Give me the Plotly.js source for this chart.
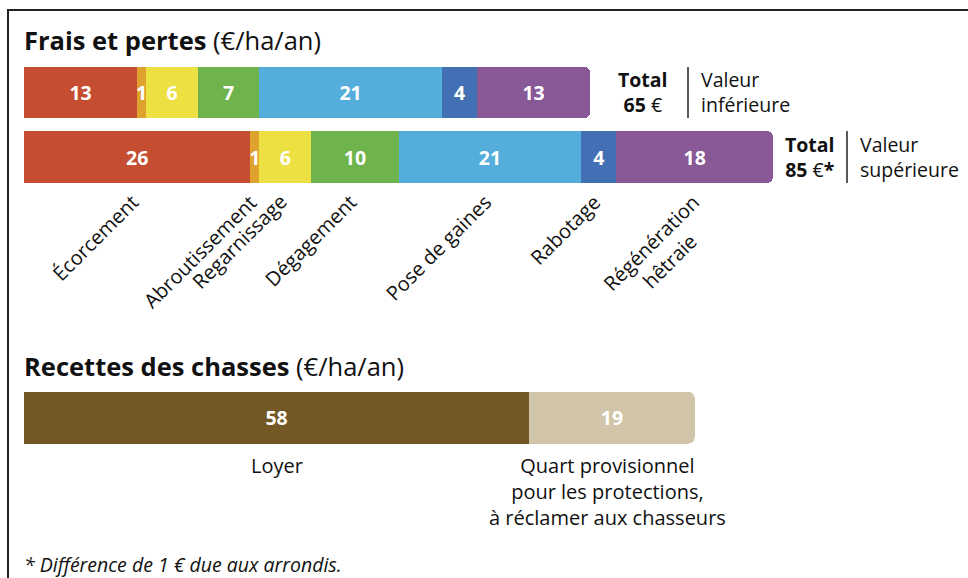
<!DOCTYPE html>
<html>
<head>
<meta charset="utf-8">
<script src="https://cdn.plot.ly/plotly-3.0.1.min.js"></script>
<style>
html,body{margin:0;padding:0;background:#fff;}
#chart{width:968px;height:578px;}
</style>
</head>
<body>
<div id="chart"></div>
<script>
// ---- Data ----
const categories = ['Écorcement', 'Abroutissement', 'Regarnissage', 'Dégagement', 'Pose de gaines', 'Rabotage', 'Régénération<br>hêtraie'];
const rows = ['Valeur inférieure', 'Valeur supérieure'];
const lowValues = [13, 1, 6, 7, 21, 4, 13];
const highValues = [26, 1, 6, 10, 21, 4, 18];
const totalLabels = ['<b>Total</b><br><b>65</b> €', '<b>Total</b><br><b>85</b> €<b>*</b>'];
const rowLabels = ['Valeur<br>inférieure', 'Valeur<br>supérieure'];
const recetteLabels = ['Loyer', 'Quart provisionnel<br>pour les protections,<br>à réclamer aux chasseurs'];
const recetteValues = [58, 19];

// ---- Styles ----
const catColors = ['#C54E32', '#E0A22E', '#EDE043', '#6EB34B', '#55ADDC', '#4370B4', '#895896'];
const recetteColors = ['#735826', '#D0C5A8'];
const FONT = '"Open Sans", sans-serif';
const W = 968, H = 578, ML = 24, MR = 4;
const PW = W - ML - MR;
const PXPERUNIT = 8.71;
const px = x => (x - ML) / PW;      // pixel x -> paper
const py = y => 1 - y / H;           // pixel y -> paper

const traces = [];
categories.forEach((c, i) => {
  traces.push({
    type: 'bar', orientation: 'h', name: c,
    y: rows, x: [lowValues[i], highValues[i]],
    xaxis: 'x', yaxis: 'y',
    marker: {color: catColors[i], line: {width: 0}},
    text: [lowValues[i], highValues[i]].map(String),
    textposition: 'inside', insidetextanchor: 'middle', textangle: 0,
    constraintext: 'none',
    textfont: {color: '#ffffff', size: 19.5, family: FONT, weight: 'bold'},
    hoverinfo: 'skip'
  });
});
recetteLabels.forEach((c, i) => {
  traces.push({
    type: 'bar', orientation: 'h', name: c,
    y: ['Recettes'], x: [recetteValues[i]],
    xaxis: 'x', yaxis: 'y2',
    marker: {color: recetteColors[i], line: {width: 0}},
    text: [String(recetteValues[i])],
    textposition: 'inside', insidetextanchor: 'middle', textangle: 0,
    constraintext: 'none',
    textfont: {color: '#ffffff', size: 19.5, family: FONT, weight: 'bold'},
    hoverinfo: 'skip'
  });
});

const annotations = [];
// titles
annotations.push({xref: 'paper', yref: 'paper', x: px(22), y: py(40), xanchor: 'left', yanchor: 'middle',
  text: '<b>Frais et pertes</b> (€/ha/an)', showarrow: false, font: {size: 25.5, family: FONT, color: '#111'}});
annotations.push({xref: 'paper', yref: 'paper', x: px(22), y: py(366), xanchor: 'left', yanchor: 'middle',
  text: '<b>Recettes des chasses</b> (€/ha/an)', showarrow: false, font: {size: 25.5, family: FONT, color: '#111'}});

// category labels under the upper-value bar
let cum = 0;
highValues.forEach((v, i) => {
  const center = cum + v / 2;
  cum += v;
  const nLines = categories[i].split('<br>').length;
  annotations.push({xref: 'x', yref: 'paper', x: center, y: py(186), xanchor: 'right', yanchor: 'top',
    xshift: 10 + (nLines - 1) * 22, text: categories[i], textangle: -45, showarrow: false, align: 'center',
    font: {size: 20, family: FONT, color: '#111'}});
});

// totals and row labels
const rowCenters = [92.5, 157];
const totalX = [643, 810];
const sepX = [688, 847];
const rowLabX = [699, 858];
rows.forEach((r, i) => {
  annotations.push({xref: 'paper', yref: 'paper', x: px(totalX[i]), y: py(rowCenters[i]), xanchor: 'center', yanchor: 'middle',
    text: totalLabels[i], showarrow: false, align: 'center', font: {size: 19.5, family: FONT, color: '#111'}});
  annotations.push({xref: 'paper', yref: 'paper', x: px(rowLabX[i]), y: py(rowCenters[i]), xanchor: 'left', yanchor: 'middle',
    text: rowLabels[i], showarrow: false, align: 'left', font: {size: 19.5, family: FONT, color: '#111'}});
});

// recettes labels
let cum2 = 0;
recetteValues.forEach((v, i) => {
  const center = cum2 + v / 2;
  cum2 += v;
  annotations.push({xref: 'x', yref: 'paper', x: center, y: py(450), xanchor: 'center', yanchor: 'top',
    xshift: i === 1 ? -4 : 0,
    text: recetteLabels[i], showarrow: false, align: 'center', font: {size: 20, family: FONT, color: '#111'}});
});

// footnote
annotations.push({xref: 'paper', yref: 'paper', x: px(22), y: py(564), xanchor: 'left', yanchor: 'middle',
  text: '<i>* Différence de 1 € due aux arrondis.</i>', showarrow: false, font: {size: 19.5, family: FONT, color: '#111'}});

const shapes = [
  {type: 'rect', xref: 'paper', yref: 'paper', x0: px(8), y0: py(10), x1: px(1100), y1: py(700),
   line: {color: '#222', width: 2}, fillcolor: 'rgba(0,0,0,0)', layer: 'below'},
  {type: 'line', xref: 'paper', yref: 'paper', x0: px(sepX[0]), x1: px(sepX[0]), y0: py(67), y1: py(118), line: {color: '#222', width: 1.5}},
  {type: 'line', xref: 'paper', yref: 'paper', x0: px(sepX[1]), x1: px(sepX[1]), y0: py(131), y1: py(183), line: {color: '#222', width: 1.5}}
];

const layout = {
  width: W, height: H,
  margin: {l: ML, r: MR, t: 0, b: 0, pad: 0},
  paper_bgcolor: '#fff', plot_bgcolor: 'rgba(0,0,0,0)',
  barmode: 'stack', bargap: 0.2, barcornerradius: 6,
  showlegend: false, hovermode: false,
  font: {family: FONT},
  xaxis: {range: [0, PW / PXPERUNIT], visible: false, fixedrange: true},
  yaxis: {domain: [py(189.25), py(60.25)], type: 'category', categoryorder: 'array', categoryarray: rows,
          range: [1.5, -0.5], visible: false, fixedrange: true},
  yaxis2: {domain: [py(450), py(385.5)], type: 'category', range: [0.5, -0.5], visible: false, fixedrange: true, anchor: 'x'},
  annotations: annotations,
  shapes: shapes
};

Plotly.newPlot('chart', traces, layout, {displayModeBar: false, staticPlot: true});
</script>
</body>
</html>
